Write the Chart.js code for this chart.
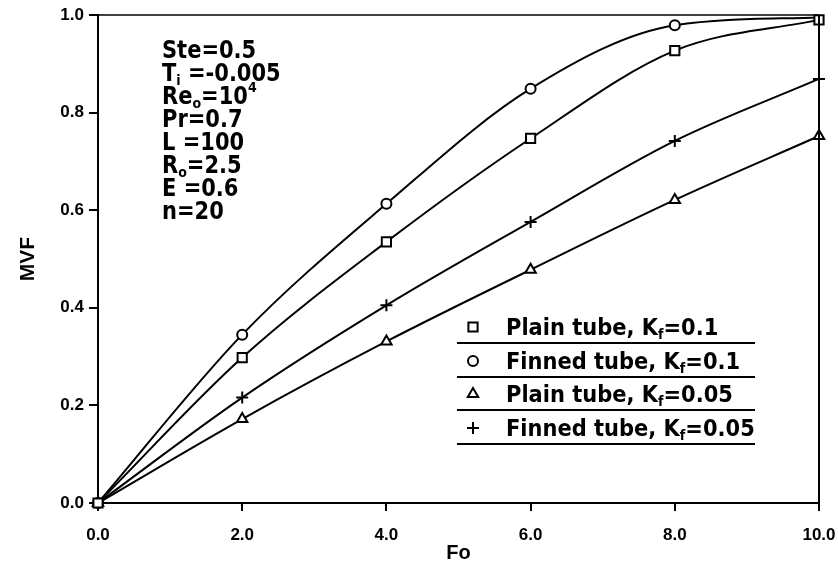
<!DOCTYPE html>
<html><head><meta charset="utf-8">
<script src="https://cdn.jsdelivr.net/npm/chart.js@4.4.1/dist/chart.umd.min.js"></script>
<style>html,body{margin:0;padding:0;background:#fff;}</style>
</head><body>
<canvas id="c" width="838" height="573"></canvas>
<script>
// ---- data ----
const fo = [0, 2, 4, 6, 8, 10];
const plainK01 = [0, 0.298, 0.535, 0.747, 0.927, 0.99];
const finnedK01 = [0, 0.345, 0.613, 0.849, 0.979, 0.995];
const plainK005 = [0, 0.172, 0.331, 0.478, 0.621, 0.752];
const finnedK005 = [0, 0.216, 0.405, 0.576, 0.742, 0.869];
const seriesLabels = ['Plain tube, K_f=0.1', 'Finned tube, K_f=0.1', 'Plain tube, K_f=0.05', 'Finned tube, K_f=0.05'];
const xTicks = [0, 2, 4, 6, 8, 10];
const yTicks = [0, 0.2, 0.4, 0.6, 0.8, 1.0];
const paramLines = ['Ste=0.5', 'T_i =-0.005', 'Re_o=10^4', 'Pr=0.7', 'L =100', 'R_o=2.5', 'E =0.6', 'n=20'];
const xTitle = 'Fo';
const yTitle = 'MVF';

const FONT = '"DejaVu Sans", sans-serif';
const AXFONT = 'Liberation Sans';

Chart.defaults.font.family = AXFONT;
Chart.defaults.font.size = 17;
Chart.defaults.font.weight = 'bold';
Chart.defaults.color = '#000';

function pts(arr) { return fo.map((x, i) => ({x: x, y: arr[i]})); }

// draws text with _x subscripts and ^x superscripts; y = centre of capitals
function drawRich(ctx, str, x, y, size, vscale) {
  ctx.save();
  ctx.translate(x, y + size * 0.36 * vscale);
  ctx.scale(1, vscale);
  let cx = 0;
  let i = 0;
  while (i < str.length) {
    const ch = str[i];
    if ((ch === '_' || ch === '^') && i + 1 < str.length) {
      const s = str[i + 1];
      const fs = size * 0.6;
      ctx.font = 'bold ' + fs + 'px ' + FONT;
      const dy = ch === '_' ? size * 0.16 : -size * 0.48;
      ctx.fillText(s, cx, dy);
      cx += ctx.measureText(s).width;
      i += 2;
    } else {
      let j = i;
      while (j < str.length && str[j] !== '_' && str[j] !== '^') j++;
      const t = str.slice(i, j);
      ctx.font = 'bold ' + size + 'px ' + FONT;
      ctx.fillText(t, cx, 0);
      cx += ctx.measureText(t).width;
      i = j;
    }
  }
  ctx.restore();
}

const styles = [
  {pointStyle: 'rect', radius: 6.5},
  {pointStyle: 'circle', radius: 5},
  {pointStyle: 'triangle', radius: 6},
  {pointStyle: 'cross', radius: 6}
];

const overlay = {
  id: 'overlay',
  afterDraw(chart) {
    const ctx = chart.ctx;
    const a = chart.chartArea;
    ctx.save();
    ctx.strokeStyle = '#000';
    ctx.lineWidth = 1.5;
    ctx.beginPath();
    ctx.moveTo(a.left, a.top); ctx.lineTo(a.right, a.top);
    ctx.stroke();
    ctx.lineWidth = 2;
    ctx.beginPath();
    ctx.moveTo(a.right, a.top); ctx.lineTo(a.right, a.bottom);
    ctx.stroke();

    ctx.textBaseline = 'alphabetic';
    ctx.textAlign = 'left';
    ctx.fillStyle = '#000';
    paramLines.forEach((t, k) => drawRich(ctx, t, 162, 49 + k * 23, 21, 1.15));

    const rows = [327, 361, 394, 428];
    chart.data.datasets.forEach((ds, k) => {
      const y = rows[k];
      ctx.fillStyle = '#fff';
      ctx.strokeStyle = '#000';
      Chart.helpers.drawPoint(ctx, {pointStyle: styles[k].pointStyle, radius: styles[k].radius, borderWidth: 1.8, rotation: 0}, 473, y);
      ctx.fillStyle = '#000';
      drawRich(ctx, ds.label, 506, y, 21, 1.12);
      ctx.lineWidth = 2;
      ctx.beginPath();
      ctx.moveTo(457, y + 16); ctx.lineTo(755, y + 16);
      ctx.stroke();
    });
    ctx.restore();
  }
};

const seriesData = [plainK01, finnedK01, plainK005, finnedK005];
const datasets = seriesData.map((arr, k) => ({
  label: seriesLabels[k],
  data: pts(arr),
  borderColor: '#000',
  borderWidth: 2,
  backgroundColor: '#fff',
  pointStyle: styles[k].pointStyle,
  pointRadius: k === 1 ? arr.map((v, i) => i === arr.length - 1 ? 0 : styles[k].radius) : styles[k].radius,
  pointBorderWidth: 2,
  pointBackgroundColor: '#fff',
  pointBorderColor: '#000',
  cubicInterpolationMode: 'monotone',
  fill: false,
  clip: false
}));

new Chart(document.getElementById('c'), {
  type: 'line',
  data: {datasets: datasets},
  options: {
    responsive: false,
    animation: false,
    devicePixelRatio: 1,
    layout: {padding: {left: 0, right: 19, top: 15, bottom: 0}},
    plugins: {legend: {display: false}, tooltip: {enabled: false}},
    scales: {
      x: {
        type: 'linear', min: 0, max: 10,
        afterBuildTicks: s => { s.ticks = xTicks.map(v => ({value: v})); },
        afterFit: s => { s.height = 70; s.paddingLeft = 0; s.paddingRight = 0; },
        ticks: {callback: v => Number(v).toFixed(1), font: {family: AXFONT, size: 17, weight: 'bold'}, color: '#000', padding: 14, maxRotation: 0, autoSkip: false},
        grid: {drawOnChartArea: false, color: '#000', lineWidth: 2, tickLength: 8, tickWidth: 2},
        border: {color: '#000', width: 2},
        title: {display: true, text: xTitle, color: '#000', font: {family: AXFONT, size: 20, weight: 'bold'}, padding: {top: 0, bottom: 8}}
      },
      y: {
        type: 'linear', min: 0, max: 1,
        afterBuildTicks: s => { s.ticks = yTicks.map(v => ({value: v})); },
        afterFit: s => { s.width = 98; s.paddingTop = 0; s.paddingBottom = 0; },
        ticks: {callback: v => Number(v).toFixed(1), font: {family: AXFONT, size: 17, weight: 'bold'}, color: '#000', padding: 5, autoSkip: false},
        grid: {drawOnChartArea: false, color: '#000', lineWidth: 2, tickLength: 9, tickWidth: 2},
        border: {color: '#000', width: 2},
        title: {display: true, text: yTitle, color: '#000', font: {family: AXFONT, size: 21, weight: 'bold'}, padding: {top: 16, bottom: 0}}
      }
    }
  },
  plugins: [overlay]
});
</script>
</body></html>
